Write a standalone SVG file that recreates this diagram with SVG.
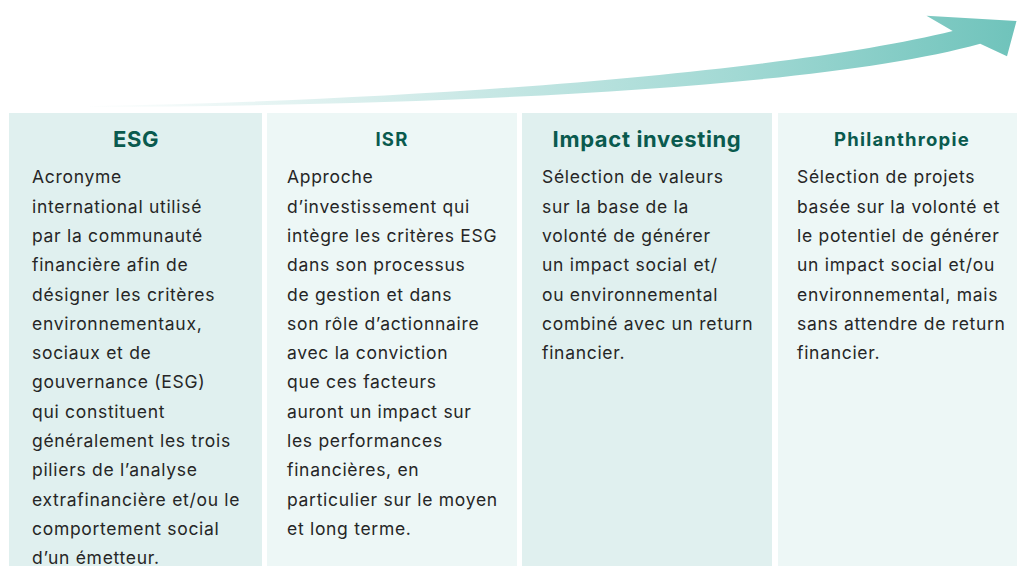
<svg xmlns="http://www.w3.org/2000/svg" width="1017" height="566" viewBox="0 0 1017 566">
<defs>
<linearGradient id="arrowGrad" gradientUnits="userSpaceOnUse" x1="80" y1="0" x2="1017" y2="0">
<stop offset="0" stop-color="#ffffff"/>
<stop offset="0.35" stop-color="#d3ecea"/>
<stop offset="0.7" stop-color="#a2d9d4"/>
<stop offset="1" stop-color="#6fc3bb"/>
</linearGradient>
<style>
.panelA{fill:#e0f0ef;}
.panelB{fill:#edf7f6;}
.title{font-family:Inter,"Liberation Sans",sans-serif;font-weight:700;fill:#0a5a4e;text-anchor:middle;}
.big{font-size:22px;letter-spacing:0.65px;}
.small{font-size:18.5px;letter-spacing:1.2px;}
.body{font-family:Inter,"Liberation Sans",sans-serif;font-size:17.5px;letter-spacing:0.7px;fill:#262626;}
</style>
</defs>
<rect width="1017" height="566" fill="#ffffff"/>
<g id="connectors">
<path d="M90,106 C450,100 800,69 952.7,31 L926.5,15.7 L1016.5,21 L1007,56.3 L980.2,43.7 C820,88 450,105.5 90,107 Z" fill="url(#arrowGrad)"/>
</g>
<g id="node-esg">
<rect class="panelA" x="9" y="113" width="253" height="453"/>
<text class="title big" x="136" y="147">ESG</text>
<text class="body">
<tspan x="32" y="183.3">Acronyme</tspan>
<tspan x="32" y="212.6">international utilisé</tspan>
<tspan x="32" y="241.9">par la communauté</tspan>
<tspan x="32" y="271.2">financière afin de</tspan>
<tspan x="32" y="300.5">désigner les critères</tspan>
<tspan x="32" y="329.8">environnementaux,</tspan>
<tspan x="32" y="359.1">sociaux et de</tspan>
<tspan x="32" y="388.4">gouvernance (ESG)</tspan>
<tspan x="32" y="417.7">qui constituent</tspan>
<tspan x="32" y="447">généralement les trois</tspan>
<tspan x="32" y="476.3">piliers de l’analyse</tspan>
<tspan x="32" y="505.6">extrafinancière et/ou le</tspan>
<tspan x="32" y="534.9">comportement social</tspan>
<tspan x="32" y="564.2">d’un émetteur.</tspan>
</text>
</g>
<g id="node-isr">
<rect class="panelB" x="267" y="113" width="250" height="453"/>
<text class="title small" x="392" y="145.5">ISR</text>
<text class="body">
<tspan x="287" y="183.3">Approche</tspan>
<tspan x="287" y="212.6">d’investissement qui</tspan>
<tspan x="287" y="241.9">intègre les critères ESG</tspan>
<tspan x="287" y="271.2">dans son processus</tspan>
<tspan x="287" y="300.5">de gestion et dans</tspan>
<tspan x="287" y="329.8">son rôle d’actionnaire</tspan>
<tspan x="287" y="359.1">avec la conviction</tspan>
<tspan x="287" y="388.4">que ces facteurs</tspan>
<tspan x="287" y="417.7">auront un impact sur</tspan>
<tspan x="287" y="447">les performances</tspan>
<tspan x="287" y="476.3">financières, en</tspan>
<tspan x="287" y="505.6">particulier sur le moyen</tspan>
<tspan x="287" y="534.9">et long terme.</tspan>
</text>
</g>
<g id="node-impact">
<rect class="panelA" x="522" y="113" width="250" height="453"/>
<text class="title big" x="647" y="147">Impact investing</text>
<text class="body">
<tspan x="542" y="183.3">Sélection de valeurs</tspan>
<tspan x="542" y="212.6">sur la base de la</tspan>
<tspan x="542" y="241.9">volonté de générer</tspan>
<tspan x="542" y="271.2">un impact social et/</tspan>
<tspan x="542" y="300.5">ou environnemental</tspan>
<tspan x="542" y="329.8">combiné avec un return</tspan>
<tspan x="542" y="359.1">financier.</tspan>
</text>
</g>
<g id="node-philanthropie">
<rect class="panelB" x="778" y="113" width="239" height="453"/>
<text class="title small" x="902" y="145.5">Philanthropie</text>
<text class="body">
<tspan x="797" y="183.3">Sélection de projets</tspan>
<tspan x="797" y="212.6">basée sur la volonté et</tspan>
<tspan x="797" y="241.9">le potentiel de générer</tspan>
<tspan x="797" y="271.2">un impact social et/ou</tspan>
<tspan x="797" y="300.5">environnemental, mais</tspan>
<tspan x="797" y="329.8">sans attendre de return</tspan>
<tspan x="797" y="359.1">financier.</tspan>
</text>
</g>
</svg>
